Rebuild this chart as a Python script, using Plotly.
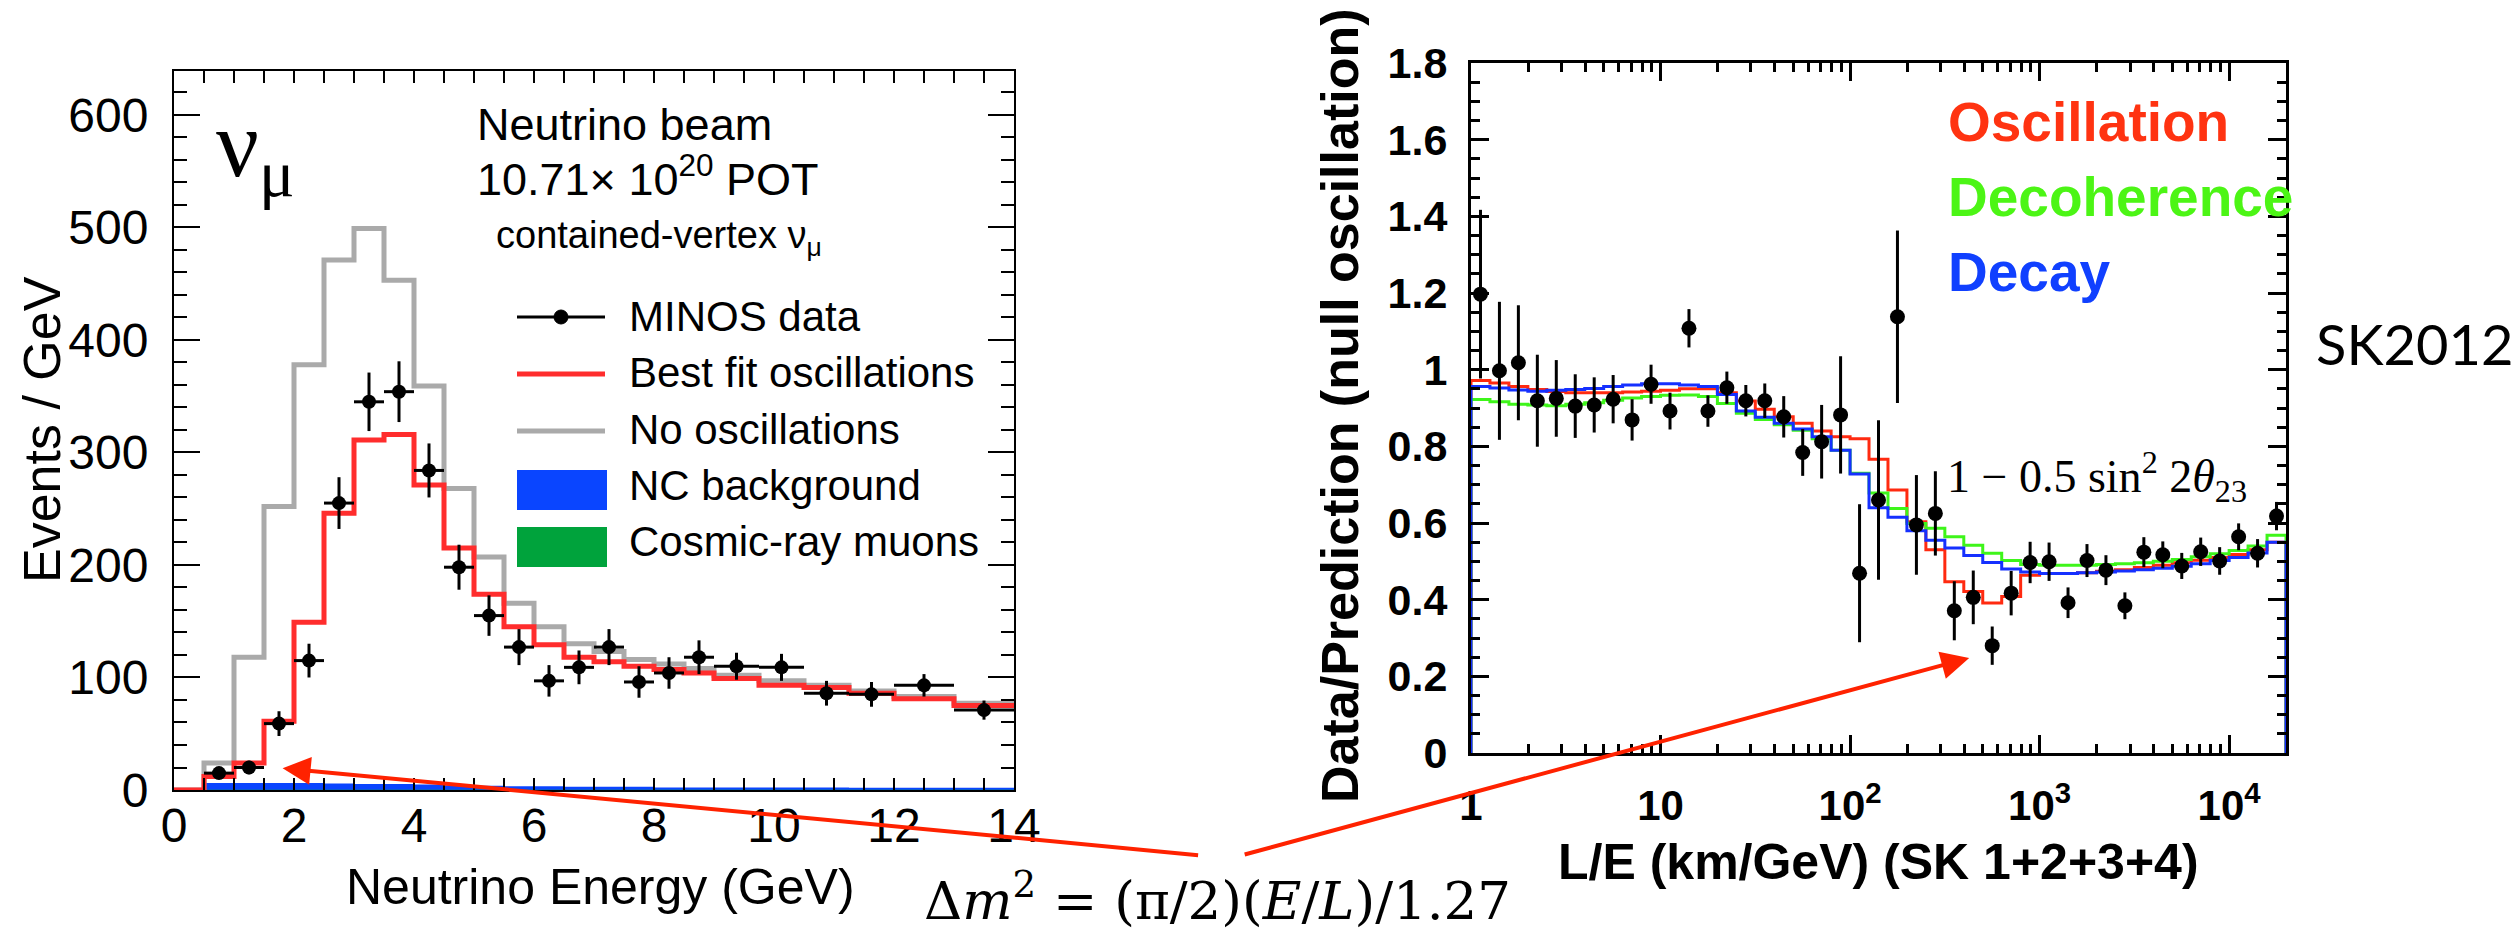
import math
import plotly.graph_objects as go

W, H = 2517, 937


def fx(p):
    return p / W


def fy(p):
    return 1 - p / H


# ---------------- MINOS: energy spectrum ----------------
E_EDGES = [0, 0.5, 1, 1.5, 2, 2.5, 3, 3.5, 4, 4.5, 5, 5.5, 6, 6.5, 7, 7.5, 8, 8.5, 9,
           9.75, 10.5, 11.25, 12, 13, 14]
NO_OSC = [0, 24, 118, 252, 378, 471, 499, 453, 359, 268, 207, 166, 145, 130, 123, 116,
          112, 108, 102, 97, 93, 88, 83, 77]
BEST_FIT = [0, 12, 24, 61, 149, 246, 311, 316, 271, 215, 174, 145, 129, 118, 114, 110,
            107, 104, 99, 93, 91, 86, 81, 75]
NC_BKG = [0, 6, 6, 6, 6, 5.5, 5, 5, 4.5, 4, 3.5, 3, 3, 2.5, 2.5, 2.5, 2, 2, 2, 2, 2,
          1.8, 1.8, 1.6]
COSMIC = [0, 0.3, 0.3, 0.3, 0.3, 0.3, 0.3, 0.3, 0.3, 0.3, 0.3, 0.3, 0.3, 0.3, 0.3, 0.3,
          0.3, 0.3, 0.3, 0.3, 0.3, 0.3, 0.3, 0.3]

DATA_E = [0.75, 1.25, 1.75, 2.25, 2.75, 3.25, 3.75, 4.25, 4.75, 5.25, 5.75, 6.25, 6.75,
          7.25, 7.75, 8.25, 8.75, 9.375, 10.125, 10.875, 11.625, 12.5, 13.5]
DATA_EW = [0.25, 0.25, 0.25, 0.25, 0.25, 0.25, 0.25, 0.25, 0.25, 0.25, 0.25, 0.25, 0.25,
           0.25, 0.25, 0.25, 0.25, 0.375, 0.375, 0.375, 0.375, 0.5, 0.5]
DATA_N = [15, 20, 59, 115, 255, 345, 354, 284, 198, 155, 127, 97, 109, 127, 96, 104, 118,
          110, 109, 86, 85, 93, 71]
DATA_NERR = [5, 6, 11, 15, 23, 26, 27, 24, 20, 18, 16, 14, 15, 16, 14, 14, 15, 12, 12, 11,
             11, 10, 8.5]

# ---------------- Super-K: L/E ratio ----------------
LE_EDGES = [10 ** (k / 10) for k in range(44)]
LE_CENTERS = [math.sqrt(a * b) for a, b in zip(LE_EDGES[:-1], LE_EDGES[1:])]

OSCILLATION = [0.972, 0.965, 0.956, 0.948, 0.943, 0.940, 0.940, 0.940, 0.942, 0.944,
               0.946, 0.950, 0.950, 0.940, 0.918, 0.897, 0.877, 0.860, 0.840, 0.825,
               0.820, 0.766, 0.686, 0.603, 0.530, 0.447, 0.421, 0.391, 0.408, 0.464,
               0.468, 0.468, 0.470, 0.474, 0.478, 0.484, 0.490, 0.496, 0.503, 0.510,
               0.518, 0.530, 0.550]
DECOHERENCE = [0.922, 0.916, 0.910, 0.908, 0.906, 0.910, 0.914, 0.920, 0.926, 0.930,
               0.933, 0.934, 0.930, 0.912, 0.886, 0.870, 0.856, 0.842, 0.820, 0.790,
               0.730, 0.678, 0.638, 0.599, 0.586, 0.564, 0.542, 0.521, 0.502, 0.492,
               0.490, 0.490, 0.490, 0.492, 0.494, 0.496, 0.500, 0.505, 0.512, 0.520,
               0.528, 0.540, 0.568]
DECAY = [0.956, 0.952, 0.947, 0.944, 0.946, 0.948, 0.951, 0.956, 0.960, 0.963,
         0.963, 0.960, 0.956, 0.935, 0.892, 0.876, 0.860, 0.845, 0.825, 0.790,
         0.728, 0.640, 0.615, 0.580, 0.555, 0.535, 0.515, 0.497, 0.480, 0.472,
         0.468, 0.468, 0.470, 0.472, 0.475, 0.478, 0.482, 0.487, 0.494, 0.502,
         0.510, 0.522, 0.550]

RATIO = [1.197, 0.997, 1.018, 0.919, 0.925, 0.905, 0.908, 0.923, 0.869, 0.962,
         0.892, 1.108, 0.892, 0.953, 0.919, 0.919, 0.877, 0.784, 0.812, 0.882,
         0.469, 0.660, 1.138, 0.595, 0.625, 0.371, 0.406, 0.280, 0.417, 0.497,
         0.499, 0.392, 0.502, 0.477, 0.384, 0.524, 0.517, 0.488, 0.525, 0.501,
         0.564, 0.521, 0.618]
RATIO_ERR = [0.22, 0.18, 0.15, 0.12, 0.10, 0.083, 0.072, 0.063, 0.054, 0.051,
             0.048, 0.05, 0.041, 0.042, 0.041, 0.045, 0.054, 0.061, 0.096, 0.153,
             0.18, 0.208, 0.225, 0.13, 0.11, 0.077, 0.07, 0.05, 0.058, 0.054,
             0.05, 0.04, 0.043, 0.039, 0.035, 0.039, 0.035, 0.034, 0.037, 0.036,
             0.035, 0.037, 0.037]

LE_TICKS = [1, 10, 100, 1000, 10000]
LE_TICKTEXT = ["1", "10", "10<sup>2</sup>", "10<sup>3</sup>", "10<sup>4</sup>"]
LE_MINOR = [m * 10 ** d for d in range(5) for m in range(2, 10) if m * 10 ** d < 2e4]

SANS = "Liberation Sans"
SERIF = "Liberation Serif"

fig = go.Figure()

# stacked backgrounds (NC on top of cosmics)
nc_total = [a + b for a, b in zip(NC_BKG, COSMIC)]
fig.add_trace(go.Scatter(x=E_EDGES, y=nc_total + [nc_total[-1]], mode="lines",
                         line=dict(width=0, shape="hv"), fill="tozeroy",
                         fillcolor="#0a45ff", xaxis="x", yaxis="y"))
fig.add_trace(go.Scatter(x=E_EDGES, y=COSMIC + [COSMIC[-1]], mode="lines",
                         line=dict(width=0, shape="hv"), fill="tozeroy",
                         fillcolor="#00a33c", xaxis="x", yaxis="y"))
fig.add_trace(go.Scatter(x=E_EDGES, y=NO_OSC + [NO_OSC[-1]], mode="lines",
                         line=dict(color="#aaaaaa", width=5, shape="hv"),
                         xaxis="x", yaxis="y"))
fig.add_trace(go.Scatter(x=E_EDGES, y=BEST_FIT + [BEST_FIT[-1]], mode="lines",
                         line=dict(color="#ff2d2d", width=5, shape="hv"),
                         xaxis="x", yaxis="y"))
fig.add_trace(go.Scatter(x=DATA_E, y=DATA_N, mode="markers",
                         marker=dict(color="black", size=14),
                         error_y=dict(type="data", array=DATA_NERR, color="black",
                                      thickness=3, width=0),
                         error_x=dict(type="data", array=DATA_EW, color="black",
                                      thickness=3, width=0),
                         xaxis="x", yaxis="y"))


def closed_step(vals):
    xs = [LE_EDGES[0]] + LE_EDGES + [LE_EDGES[-1]]
    ys = [0] + vals + [vals[-1], 0]
    return xs, ys


for vals, col in ((OSCILLATION, "#ff2a10"), (DECOHERENCE, "#3ef51a"), (DECAY, "#1530ff")):
    xs, ys = closed_step(vals)
    fig.add_trace(go.Scatter(x=xs, y=ys, mode="lines",
                             line=dict(color=col, width=3, shape="hv"),
                             xaxis="x2", yaxis="y2"))

fig.add_trace(go.Scatter(x=LE_CENTERS, y=RATIO, mode="markers",
                         marker=dict(color="black", size=15),
                         error_y=dict(type="data", array=RATIO_ERR, color="black",
                                      thickness=3, width=0),
                         xaxis="x2", yaxis="y2"))

frame = dict(showline=True, linecolor="black", mirror="allticks", showgrid=False,
             zeroline=False, ticks="inside", tickcolor="black", automargin=False)

fig.update_layout(
    width=W, height=H, margin=dict(l=0, r=0, t=0, b=0, pad=0, autoexpand=False),
    paper_bgcolor="white", plot_bgcolor="white", showlegend=False,
    xaxis=dict(domain=[fx(174), fx(1014)], anchor="y", range=[0, 14], dtick=2,
               linewidth=2, ticklen=12, tickwidth=2,
               minor=dict(dtick=0.5, ticklen=12, tickwidth=2, ticks="inside",
                          tickcolor="black"),
               tickfont=dict(family=SANS, size=48, color="black"),
               ticklabelstandoff=-8, **frame),
    yaxis=dict(domain=[fy(790), fy(71)], anchor="x", range=[0, 639], dtick=100,
               linewidth=2, ticklen=26, tickwidth=2,
               minor=dict(dtick=20, ticklen=13, tickwidth=2, ticks="inside",
                          tickcolor="black"),
               tickfont=dict(family=SANS, size=48, color="black"),
               ticklabelstandoff=14, **frame),
    xaxis2=dict(domain=[fx(1471), fx(2286)], anchor="y2", type="log", range=[0, 4.3],
                tickmode="array", tickvals=LE_TICKS, ticktext=LE_TICKTEXT,
                linewidth=3, ticklen=18, tickwidth=3,
                minor=dict(tickmode="array", tickvals=LE_MINOR, ticklen=9,
                           tickwidth=3, ticks="inside", tickcolor="black"),
                tickfont=dict(family=SANS, size=42, color="black", weight="bold"),
                ticklabelstandoff=14, **frame),
    yaxis2=dict(domain=[fy(753), fy(63)], anchor="x2", range=[0, 1.8], dtick=0.2,
                linewidth=3, ticklen=18, tickwidth=3,
                minor=dict(dtick=0.05, ticklen=9, tickwidth=3, ticks="inside",
                           tickcolor="black"),
                tickfont=dict(family=SANS, size=43, color="black", weight="bold"),
                ticklabelstandoff=12, **frame),
)

ann = []


def label(x, y, s, size, family=SANS, color="black", xanchor="left", angle=0,
          bold=False):
    ann.append(dict(x=fx(x), y=fy(y), xref="paper", yref="paper", text=s,
                    showarrow=False, xanchor=xanchor, yanchor="middle",
                    textangle=angle,
                    font=dict(family=family, size=size, color=color,
                              weight="bold" if bold else "normal")))


# axis titles
label(42, 430, "Events / GeV", 52, xanchor="center", angle=-90)
label(600, 887, "Neutrino Energy (GeV)", 50, xanchor="center")
label(1340, 406, "Data/Prediction (null oscillation)", 52, xanchor="center",
      angle=-90, bold=True)
label(1878, 862, "L/E (km/GeV) (SK 1+2+3+4)", 50, xanchor="center", bold=True)

# MINOS panel texts
label(214, 150, "ν<sub>μ</sub>", 95, family=SERIF)
label(475, 125, "Neutrino beam", 45)
label(475, 176, "10.71× 10<sup>20</sup> POT", 45)
label(494, 238, "contained-vertex ν<sub>μ</sub>", 38)
for yy, s in ((317, "MINOS data"), (373, "Best fit oscillations"),
              (429, "No oscillations"), (485, "NC background"),
              (541, "Cosmic-ray muons")):
    label(627, yy, s, 42)

# Super-K panel texts
label(1946, 122, "Oscillation", 55, color="#ff3311", bold=True)
label(1946, 197, "Decoherence", 55, color="#4cf515", bold=True)
label(1946, 272, "Decay", 55, color="#1040ff", bold=True)
label(1945, 476, "1 − 0.5 sin<sup>2</sup> 2<i>θ</i><sub>23</sub>", 46, family=SERIF)
label(2314, 343, "SK2012", 56, family="Lato")
label(922, 897, "Δ<i>m</i><sup>2</sup> = (π/2)(<i>E</i>/<i>L</i>)/1.27", 53,
      family="DejaVu Serif")

# arrows from the formula to both spectra
ann.append(dict(x=1.81, y=19.3, xref="x", yref="y", text="", showarrow=True,
                ax=917, ay=87, arrowhead=2, arrowsize=1.4, arrowwidth=4,
                arrowcolor="#ff2200"))
ann.append(dict(x=math.log10(425), y=0.248, xref="x2", yref="y2", text="",
                showarrow=True, ax=-726, ay=197, arrowhead=2, arrowsize=1.4,
                arrowwidth=4, arrowcolor="#ff2200"))

fig.update_layout(annotations=ann)

# legend swatches for the MINOS panel
shapes = [
    dict(type="line", x0=fx(517), x1=fx(605), y0=fy(317), y1=fy(317),
         line=dict(color="black", width=3)),
    dict(type="circle", x0=fx(554), x1=fx(568), y0=fy(324), y1=fy(310),
         fillcolor="black", line=dict(color="black", width=1)),
    dict(type="line", x0=fx(517), x1=fx(605), y0=fy(374), y1=fy(374),
         line=dict(color="#ff2d2d", width=5)),
    dict(type="line", x0=fx(517), x1=fx(605), y0=fy(431), y1=fy(431),
         line=dict(color="#aaaaaa", width=5)),
    dict(type="rect", x0=fx(517), x1=fx(607), y0=fy(510), y1=fy(470),
         fillcolor="#0a45ff", line=dict(width=0)),
    dict(type="rect", x0=fx(517), x1=fx(607), y0=fy(567), y1=fy(527),
         fillcolor="#00a33c", line=dict(width=0)),
]
for s in shapes:
    s.update(xref="paper", yref="paper")
fig.update_layout(shapes=shapes)

fig.write_html("out.html")
